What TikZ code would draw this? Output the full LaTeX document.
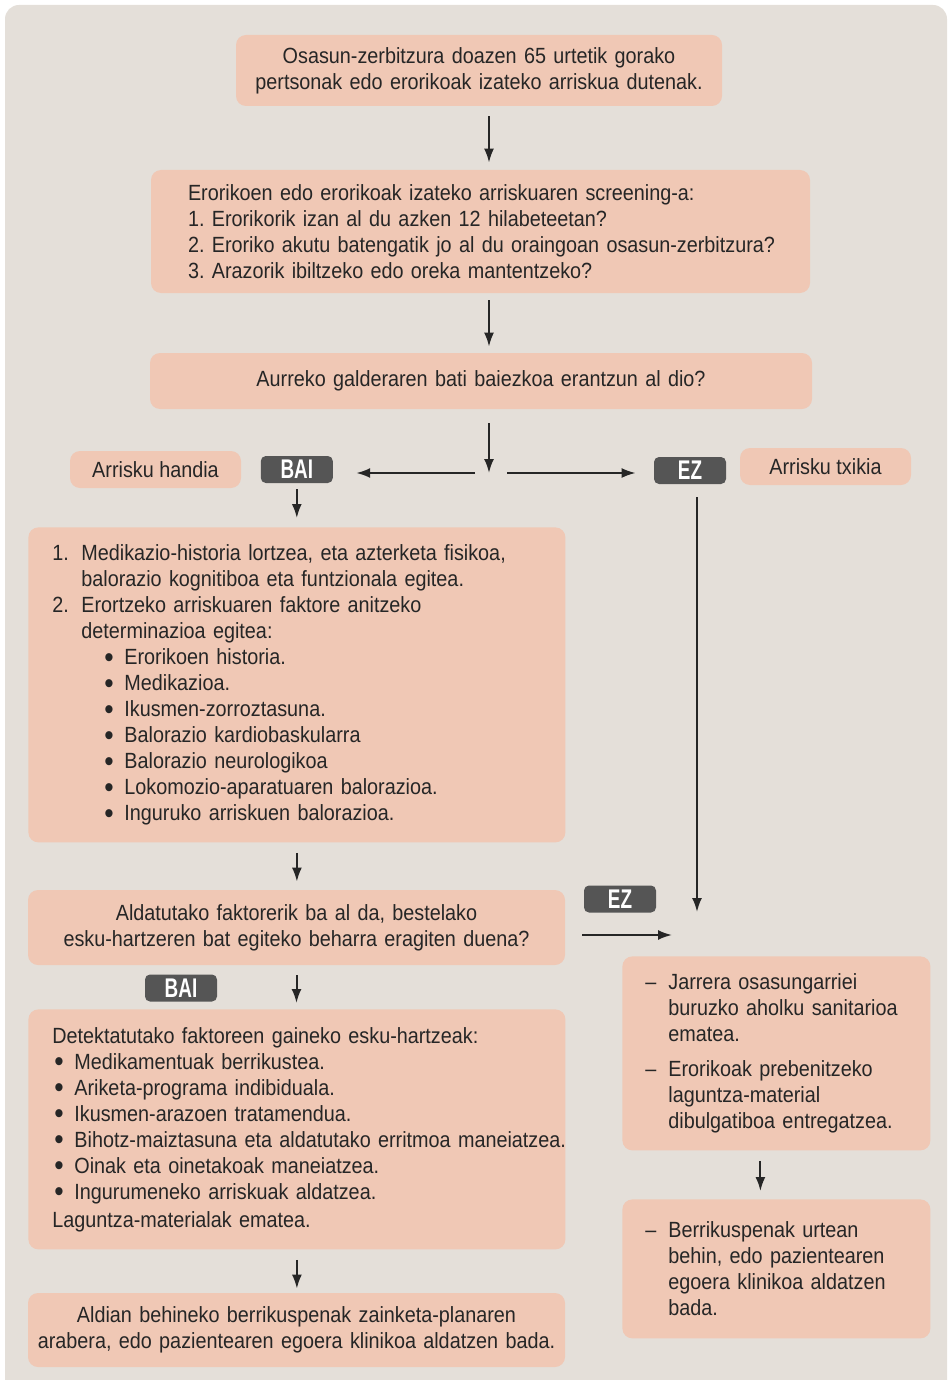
\documentclass[tikz,border=0pt]{standalone}
\usepackage{fontspec}
\setmainfont[FakeStretch=0.9]{Liberation Sans}
\newfontfamily\badgefont[FakeStretch=0.7]{Liberation Sans}
\usetikzlibrary{arrows.meta, positioning}
\frenchspacing

\definecolor{panelbg}{HTML}{E4DFD9}
\definecolor{boxfill}{HTML}{F0C8B5}
\definecolor{inkgray}{HTML}{262626}
\definecolor{badgegray}{HTML}{555555}

% List layout helpers
\newcommand{\bigdot}{\raisebox{-0.12em}{\scalebox{1.35}{\textbullet}}}
\newcommand{\numit}[1]{\makebox[14.5pt][l]{#1}}
\newcommand{\numhang}{\hspace*{14.5pt}}
\newcommand{\subbul}{\hspace*{26pt}\makebox[10pt][l]{\bigdot}}
\newcommand{\bul}{\hspace*{1pt}\makebox[10pt][l]{\bigdot}}
\newcommand{\dashit}{\makebox[11.5pt][l]{--}}
\newcommand{\dashhang}{\hspace*{11.5pt}}

\begin{document}
\begin{tikzpicture}[x=0.5pt, y=-0.5pt,
    font=\fontsize{11}{13}\selectfont, text=inkgray,
    % Box styles
    flowbox/.style={rectangle, rounded corners=5pt, fill=boxfill, inner sep=0pt, align=center},
    listbox/.style={flowbox, align=left, anchor=north west, inner xsep=12pt},
    riskbox/.style={flowbox, minimum width=85.5pt, minimum height=18.5pt},
    badge/.style={rectangle, rounded corners=2.5pt, fill=badgegray, text=white,
                  font=\badgefont\bfseries\fontsize{13.5}{13.5}\selectfont,
                  minimum width=36pt, minimum height=13.5pt, inner sep=0pt},
    arrow/.style={-{Latex[length=7pt, width=5pt]}, line width=1pt, draw=inkgray}
]

% Panel
\useasboundingbox (0,0) rectangle (948,1380);
\clip (0,0) rectangle (948,1380);
\fill[panelbg, rounded corners=7pt] (5,5) rectangle (947,1420);

% Top of the flow
\node[flowbox, text width=243pt, minimum height=35.5pt] at (479,70.5) (start)
    {Osasun-zerbitzura doazen 65 urtetik gorako\\ pertsonak edo erorikoak izateko arriskua dutenak.};

\node[flowbox, align=left, inner xsep=18.5pt, text width=292.5pt, minimum height=61.5pt] at (480.5,231.5) (screen)
    {\mbox{Erorikoen edo erorikoak izateko arriskuaren screening-a:}\\
     \mbox{1. Erorikorik izan al du azken 12 hilabeteetan?}\\
     \mbox{2. Eroriko akutu batengatik jo al du oraingoan osasun-zerbitzura?}\\
     \mbox{3. Arazorik ibiltzeko edo oreka mantentzeko?}};

\node[flowbox, text width=331pt, minimum height=28pt] at (481,381) (question)
    {Aurreko galderaren bati baiezkoa erantzun al dio?};

% Risk labels and answers
\node[riskbox] at (155.5,469.5) (high) {Arrisku handia};
\node[badge, right=9.5pt of high] (bai1) {BAI};
\node[riskbox] at (825.5,466.5) (low) {Arrisku txikia};
\node[badge] at (690,470.5) (ez1) {EZ};
\coordinate (split) at (489,473);

% Left branch
\node[listbox, text width=244.5pt, minimum height=157.5pt] at (28,527) (assess)
    {\numit{1.}\mbox{Medikazio-historia lortzea, eta azterketa fisikoa,}\\
     \numhang balorazio kognitiboa eta funtzionala egitea.\\
     \numit{2.}Erortzeko arriskuaren faktore anitzeko\\
     \numhang determinazioa egitea:\\
     \subbul Erorikoen historia.\\
     \subbul Medikazioa.\\
     \subbul Ikusmen-zorroztasuna.\\
     \subbul Balorazio kardiobaskularra\\
     \subbul Balorazio neurologikoa\\
     \subbul Lokomozio-aparatuaren balorazioa.\\
     \subbul Inguruko arriskuen balorazioa.};

\node[flowbox, text width=268.5pt, minimum height=37.5pt] at (296.5,927.5) (modq)
    {Aldatutako faktorerik ba al da, bestelako\\ esku-hartzeren bat egiteko beharra eragiten duena?};

\node[badge] at (620,899) (ez2) {EZ};
\node[badge] at (181,988) (bai2) {BAI};
\coordinate (merge) at (697,935);

\node[listbox, text width=244.5pt, minimum height=120pt] at (28,1009) (act)
    {Detektatutako faktoreen gaineko esku-hartzeak:\\
     \bul Medikamentuak berrikustea.\\
     \bul Ariketa-programa indibiduala.\\
     \bul Ikusmen-arazoen tratamendua.\\
     \bul \mbox{Bihotz-maiztasuna eta aldatutako erritmoa maneiatzea.}\\
     \bul Oinak eta oinetakoak maneiatzea.\\
     \bul Ingurumeneko arriskuak aldatzea.\\[1pt]
     Laguntza-materialak ematea.};

\node[flowbox, text width=268.5pt, minimum height=37pt] at (296.5,1330) (reviewl)
    {Aldian behineko berrikuspenak zainketa-planaren\\ \mbox{arabera, edo pazientearen egoera klinikoa aldatzen bada.}};

% Right branch
\node[listbox, inner xsep=11.5pt, text width=131pt, minimum height=97pt] at (622,956) (advice)
    {\dashit Jarrera osasungarriei\\
     \dashhang \mbox{buruzko aholku sanitarioa}\\
     \dashhang ematea.\\[4.5pt]
     \dashit Erorikoak prebenitzeko\\
     \dashhang laguntza-material\\
     \dashhang \mbox{dibulgatiboa entregatzea.}};

\node[listbox, inner xsep=11.5pt, text width=131pt, minimum height=69.5pt] at (622,1199) (reviewr)
    {\dashit Berrikuspenak urtean\\
     \dashhang \mbox{behin, edo pazientearen}\\
     \dashhang \mbox{egoera klinikoa aldatzen}\\
     \dashhang bada.};

% Connections
\draw[arrow] ([xshift=5pt, yshift=-5pt]start.south) -- ([xshift=5pt, yshift=3.5pt]start.south |- screen.north);
\draw[arrow] ([xshift=4.25pt, yshift=-3.5pt]screen.south) -- ([xshift=4.25pt, yshift=3pt]screen.south |- question.north);
\draw[arrow] ([xshift=4pt, yshift=-7pt]question.south) -- (split);
\draw[arrow] ([xshift=-7pt]split) -- ([xshift=11.5pt]bai1.east |- split);
\draw[arrow] ([xshift=9pt]split) -- ([xshift=-9pt]ez1.west |- split);

\draw[arrow] ([yshift=-3pt]bai1.south) -- ([yshift=4.5pt]bai1.south |- assess.north);
\draw[arrow] ([yshift=-5pt]assess.south) -- ([yshift=4pt]assess.south |- modq.north);
\draw[arrow] ([yshift=-5pt]modq.south) -- ([yshift=3pt]modq.south |- act.north);
\draw[arrow] ([yshift=-5pt]act.south) -- ([yshift=2pt]act.south |- reviewl.north);

\draw[arrow] ([xshift=3.5pt, yshift=-6.5pt]ez1.south) -- ([yshift=11.5pt]merge);
\draw[arrow] ([xshift=8.5pt]modq.east |- merge) -- ([xshift=-12.5pt]merge);
\draw[arrow] ([xshift=-8pt, yshift=-5pt]advice.south) -- ([xshift=-8pt, yshift=4pt]reviewr.north);

\end{tikzpicture}
\end{document}
